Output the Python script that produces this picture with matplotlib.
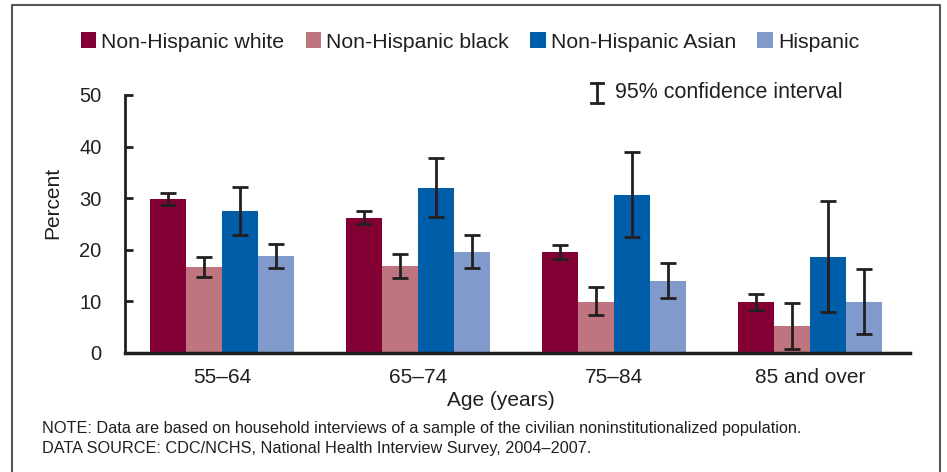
import matplotlib
matplotlib.use("Agg")
import matplotlib.pyplot as plt
import numpy as np
from matplotlib.patches import Patch
from matplotlib.lines import Line2D

plt.rcParams['font.family'] = ['Liberation Sans', 'DejaVu Sans']

age_groups = ["55–64", "65–74", "75–84", "85 and over"]
series_names = ["Non-Hispanic white", "Non-Hispanic black", "Non-Hispanic Asian", "Hispanic"]
colors = ["#830035", "#BE7580", "#005EA8", "#7F9ACB"]

white = [29.8, 26.1, 19.6, 9.9]
white_lo = [28.7, 25.0, 18.3, 8.3]
white_hi = [31.0, 27.6, 20.9, 11.4]

black = [16.7, 16.9, 9.9, 5.2]
black_lo = [14.7, 14.5, 7.3, 0.7]
black_hi = [18.7, 19.2, 12.7, 9.7]

asian = [27.5, 32.0, 30.6, 18.6]
asian_lo = [22.9, 26.3, 22.4, 7.9]
asian_hi = [32.1, 37.7, 39.0, 29.4]

hispanic = [18.8, 19.6, 14.0, 9.9]
hispanic_lo = [16.5, 16.5, 10.6, 3.6]
hispanic_hi = [21.1, 22.9, 17.4, 16.3]

values = [white, black, asian, hispanic]
lows = [white_lo, black_lo, asian_lo, hispanic_lo]
highs = [white_hi, black_hi, asian_hi, hispanic_hi]

ink = "#231F20"
W, H = 947, 472
fig = plt.figure(figsize=(W / 100, H / 100), dpi=100)
ax = fig.add_axes([125 / W, 1 - 353 / H, (910 - 125) / W, (353 - 95) / H])

x = np.arange(len(age_groups))
bw = 0.183
for i, (vals, lo, hi, c) in enumerate(zip(values, lows, highs, colors)):
    pos = x + (i - 1.5) * bw
    v = np.array(vals)
    err = np.vstack([v - np.array(lo), np.array(hi) - v])
    ax.bar(pos, v, width=bw, color=c, linewidth=0, zorder=2)
    ax.errorbar(pos, v, yerr=err, fmt="none", ecolor=ink, elinewidth=2,
                capsize=5.5, capthick=2, zorder=3)

ax.set_xlim(-0.495, 3.51)
ax.set_ylim(0, 50)
ax.set_yticks([0, 10, 20, 30, 40, 50])
ax.set_xticks(x)
ax.set_xticklabels(age_groups)
ax.tick_params(axis="y", direction="in", length=6, width=2, color=ink,
               labelsize=14.5, pad=17, labelcolor=ink)
ax.tick_params(axis="x", length=0, labelsize=15, pad=11, labelcolor=ink)
for s in ["top", "right"]:
    ax.spines[s].set_visible(False)
ax.spines["left"].set_linewidth(2)
ax.spines["bottom"].set_linewidth(2.5)
ax.spines["left"].set_color(ink)
ax.spines["bottom"].set_color(ink)

fig.text(53 / W, 1 - 203 / H, "Percent", fontsize=15, color=ink,
         ha="center", va="center", rotation=90)
fig.text(501 / W, 1 - 400 / H, "Age (years)", fontsize=15, color=ink,
         ha="center", va="center")

handles = [Patch(facecolor=c, edgecolor="none") for c in colors]
fig.legend(handles, series_names, loc="center", bbox_to_anchor=(470 / W, 1 - 42 / H),
           ncol=4, frameon=False, fontsize=15.3, handlelength=0.72, handleheight=0.78,
           handletextpad=0.25, columnspacing=1.0, labelcolor=ink)

# confidence interval key
cx, y0, y1 = 597 / W, 1 - 83 / H, 1 - 103 / H
cw = 6 / W
for seg in ([(cx, cx), (y0, y1)], [(cx - cw, cx + cw), (y0, y0)], [(cx - cw, cx + cw), (y1, y1)]):
    fig.add_artist(Line2D(seg[0], seg[1], color=ink, linewidth=2, transform=fig.transFigure))
fig.text(615 / W, 1 - 93 / H, "95% confidence interval", fontsize=15.5, color=ink,
         ha="left", va="center")

fig.text(42 / W, 1 - 428 / H,
         "NOTE: Data are based on household interviews of a sample of the civilian noninstitutionalized population.",
         fontsize=11.7, color=ink, ha="left", va="center")
fig.text(42 / W, 1 - 449 / H,
         "DATA SOURCE: CDC/NCHS, National Health Interview Survey, 2004–2007.",
         fontsize=11.7, color=ink, ha="left", va="center")

# frame around the figure
fig.add_artist(Line2D([12 / W, 12 / W, 940 / W, 940 / W], [0, 1 - 5 / H, 1 - 5 / H, 0],
                      color="#555555", linewidth=1.5, transform=fig.transFigure))

fig.savefig("out.png", dpi=100)
